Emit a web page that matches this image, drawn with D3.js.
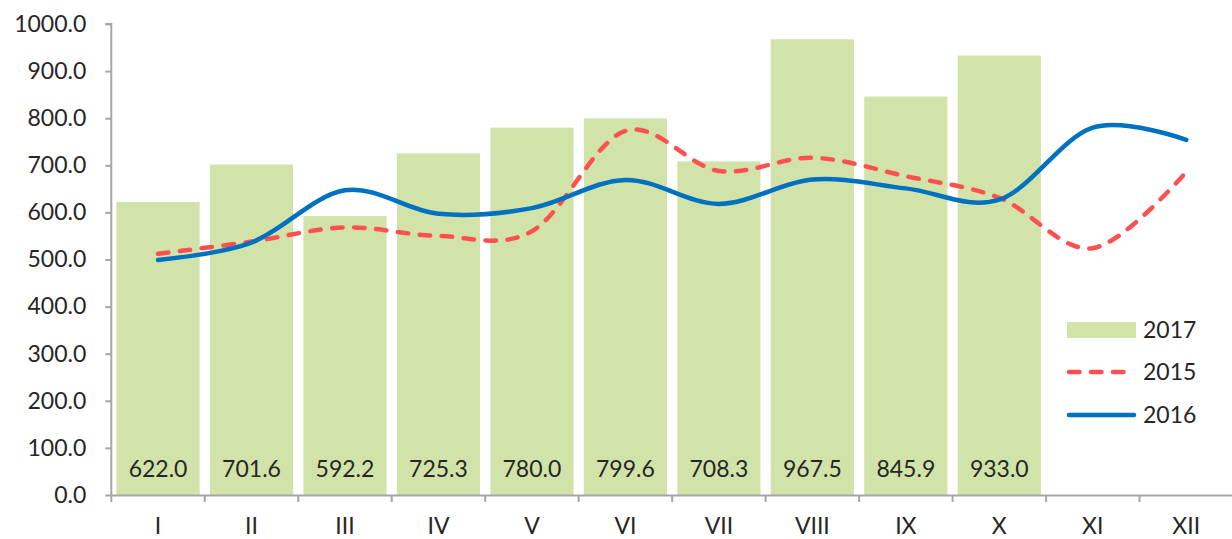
<!DOCTYPE html>
<html>
<head>
<meta charset="utf-8">
<script src="https://cdn.jsdelivr.net/npm/d3@7"></script>
<style>
  html, body { margin: 0; padding: 0; background: #fff; }
  svg { display: block; font-family: Lato, "Open Sans", sans-serif; }
</style>
</head>
<body>
<svg id="chart" width="1232" height="539"></svg>
<script>
const months = ["I","II","III","IV","V","VI","VII","VIII","IX","X","XI","XII"];
const values2017 = [622.0, 701.6, 592.2, 725.3, 780.0, 799.6, 708.3, 967.5, 845.9, 933.0];
const values2015 = [512, 538, 568, 550, 560, 773, 688, 716, 677, 631, 524, 686];
const values2016 = [499, 536, 647, 597, 609, 669, 618, 670, 651, 627, 780, 754];
const yTicks = [0, 100, 200, 300, 400, 500, 600, 700, 800, 900, 1000];
const seriesNames = ["2017", "2015", "2016"];

(function () {
const svg = d3.select("#chart");
const pLeft = 111.3, pRight = 1233, pTop = 24, pBottom = 495;
const textColor = "#262626", axisColor = "#a6a6a6";
const barColor = "#d1e3a9", redColor = "#ff5050", blueColor = "#0070c0";
const fontFam = "Lato, 'Open Sans', sans-serif";
const fs = 23;

const x = d3.scaleBand().domain(months).range([pLeft, pRight]).padding(0);
const y = d3.scaleLinear().domain([0, 1000]).range([pBottom, pTop]);
const barW = x.bandwidth() * 0.89;
const cx = d => x(d) + x.bandwidth() / 2;

// Bars
svg.append("g").selectAll("rect").data(values2017).join("rect")
  .attr("x", (d, i) => cx(months[i]) - barW / 2)
  .attr("y", d => y(d))
  .attr("width", barW)
  .attr("height", d => y(0) - y(d))
  .attr("fill", barColor);

// Bar labels
svg.append("g").selectAll("text").data(values2017).join("text")
  .attr("x", (d, i) => cx(months[i]))
  .attr("y", 476.5)
  .attr("text-anchor", "middle")
  .attr("font-size", fs)
  .attr("fill", textColor)
  .text(d => d.toFixed(1));

// Y axis
const yAxis = svg.append("g").attr("transform", `translate(${pLeft},0)`)
  .call(d3.axisLeft(y).tickValues(yTicks).tickFormat(d3.format(".1f")).tickSize(6).tickPadding(19));
yAxis.select(".domain").attr("stroke", axisColor).attr("stroke-width", 2).attr("d", `M-6,${pTop}H0V${pBottom}`);
yAxis.selectAll(".tick line").attr("stroke", axisColor).attr("stroke-width", 2);
yAxis.selectAll(".tick text").attr("fill", textColor).attr("font-size", fs).attr("font-family", fontFam);

// X axis
const xAxis = svg.append("g").attr("transform", `translate(0,${pBottom})`)
  .call(d3.axisBottom(x).tickSize(0).tickPadding(0));
xAxis.select(".domain").attr("stroke", axisColor).attr("stroke-width", 2);
xAxis.selectAll(".tick text").attr("fill", textColor).attr("font-size", fs).attr("font-family", fontFam)
  .attr("dy", null).attr("y", 38.5);
svg.append("g").selectAll("line").data(months.concat(["end"])).join("line")
  .attr("x1", (d, i) => i < months.length ? x(d) : pRight)
  .attr("x2", (d, i) => i < months.length ? x(d) : pRight)
  .attr("y1", pBottom).attr("y2", pBottom + 7)
  .attr("stroke", axisColor).attr("stroke-width", 2);

// Lines
const line = d3.line()
  .x((d, i) => cx(months[i]))
  .y(d => y(d))
  .curve(d3.curveCardinal.tension(0));

svg.append("path").datum(values2015)
  .attr("d", line).attr("fill", "none")
  .attr("stroke", redColor).attr("stroke-width", 4.5)
  .attr("stroke-linecap", "round")
  .attr("stroke-dasharray", "10.5,11.5");

svg.append("path").datum(values2016)
  .attr("d", line).attr("fill", "none")
  .attr("stroke", blueColor).attr("stroke-width", 4.5)
  .attr("stroke-linecap", "round");

// Legend
const lg = svg.append("g");
const lx0 = 1067, lx1 = 1136, rows = [330, 372, 415];
lg.append("rect").attr("x", lx0).attr("y", rows[0] - 8).attr("width", lx1 - lx0).attr("height", 16).attr("fill", barColor);
lg.append("line").attr("x1", lx0 + 2).attr("x2", lx1 - 2).attr("y1", rows[1]).attr("y2", rows[1])
  .attr("stroke", redColor).attr("stroke-width", 4.5).attr("stroke-linecap", "round").attr("stroke-dasharray", "10.5,11.5");
lg.append("line").attr("x1", lx0 + 2).attr("x2", lx1 - 2).attr("y1", rows[2]).attr("y2", rows[2])
  .attr("stroke", blueColor).attr("stroke-width", 4.5).attr("stroke-linecap", "round");
lg.selectAll("text").data(seriesNames).join("text")
  .attr("x", 1143).attr("y", (d, i) => rows[i] + 8)
  .attr("font-size", fs).attr("fill", textColor).text(d => d);
})();
</script>
</body>
</html>
